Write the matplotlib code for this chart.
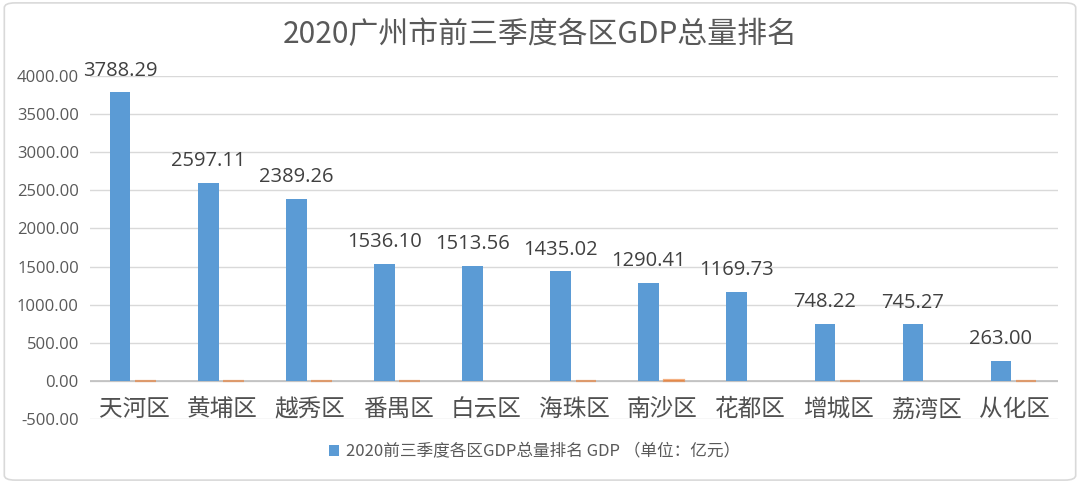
import matplotlib
matplotlib.use('Agg')
import matplotlib.pyplot as plt
from matplotlib.patches import FancyBboxPatch
import numpy as np

plt.rcParams['font.family'] = ['Noto Sans CJK SC', 'DejaVu Sans']

districts = ['天河区', '黄埔区', '越秀区', '番禺区', '白云区', '海珠区',
             '南沙区', '花都区', '增城区', '荔湾区', '从化区']
gdp = [3788.29, 2597.11, 2389.26, 1536.10, 1513.56, 1435.02,
       1290.41, 1169.73, 748.22, 745.27, 263.00]
growth = [2.6, 3.8, 1.1, 3.0, -0.9, 0.5, 5.7, -1.6, 3.7, -0.5, 3.3]

text_c = '#595959'
blue = '#5B9BD5'
orange = '#ED7D31'

fig = plt.figure(figsize=(10.8, 4.83), dpi=100)
fig.patches.append(FancyBboxPatch((0.004, 0.006), 0.992, 0.988,
                                  boxstyle='round,pad=0,rounding_size=0.01',
                                  transform=fig.transFigure, fill=False,
                                  edgecolor='#D9D9D9', linewidth=1.2))
ax = fig.add_axes([0.0833, 0.1325, 0.8967, 0.7102])

x = np.arange(len(districts))
w = 0.23
ax.bar(x - 0.155, gdp, width=w, color=blue, zorder=3)
ax.bar(x + 0.13, growth, width=w, color=orange, alpha=0.6, zorder=3,
       edgecolor=orange, linewidth=[1.6 if g > 0 else 0 for g in growth])

for xi, v in zip(x, gdp):
    ax.text(xi - 0.155, v + 150, f'{v:.2f}', ha='center', va='bottom',
            fontsize=14.5, color='#404040', family='Open Sans')

for xi, name in zip(x, districts):
    ax.text(xi, -380, name, ha='center', va='center', fontsize=17, color='#505050')

ax.set_xlim(-0.5, len(districts) - 0.5)
ax.set_ylim(-500, 4000)
ax.set_yticks(np.arange(-500, 4001, 500))
ax.set_yticklabels([f'{t:.2f}' for t in np.arange(-500, 4001, 500)],
                   family='Open Sans')
ax.tick_params(axis='y', length=0, labelsize=12, labelcolor=text_c, pad=8)
ax.set_xticks([])
ax.grid(axis='y', color='#D9D9D9', linewidth=1, zorder=0)
ax.axhline(0, color='#BFBFBF', linewidth=1.2, zorder=2)
for s in ax.spines.values():
    s.set_visible(False)

fig.text(0.5, 0.928, '2020广州市前三季度各区GDP总量排名', ha='center', va='center',
         fontsize=21.5, color=text_c)

h = ax.bar([0], [0], color=blue)
fig.legend([h], ['2020前三季度各区GDP总量排名 GDP （单位：亿元）'], loc='center',
           bbox_to_anchor=(0.495, 0.064), frameon=False, fontsize=12,
           labelcolor=text_c, handlelength=0.6, handleheight=0.6,
           handletextpad=0.4)

fig.savefig('out.png', dpi=100)
